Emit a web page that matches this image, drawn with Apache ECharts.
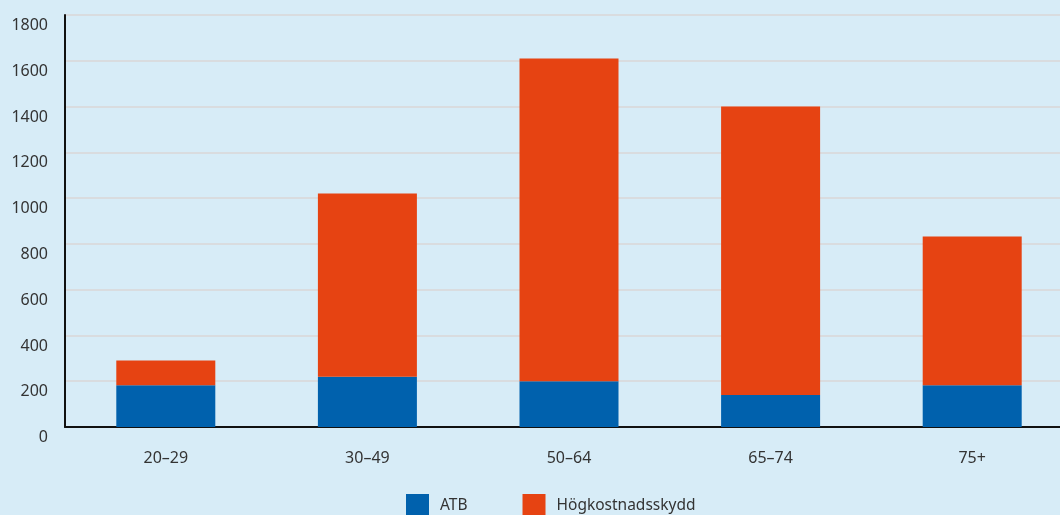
<!DOCTYPE html>
<html>
<head>
<meta charset="utf-8">
<script src="https://cdn.jsdelivr.net/npm/echarts@6/dist/echarts.min.js"></script>
<style>
  html, body { margin: 0; padding: 0; background: #d7ecf7; }
  #chart { width: 1060px; height: 515px; }
</style>
</head>
<body>
<div id="chart"></div>
<script>
// Age groups and the two stacked components
const categories = ['20–29', '30–49', '50–64', '65–74', '75+'];
const atb = [182, 220, 200, 140, 182];
const hogkostnadsskydd = [108, 800, 1410, 1260, 650];
const yTicks = { min: 0, max: 1800, interval: 200 };

const FONT = '"Noto Sans", sans-serif';
const chart = echarts.init(document.getElementById('chart'), null, { renderer: 'canvas' });

chart.setOption({
  backgroundColor: '#d7ecf7',
  animation: false,
  textStyle: { fontFamily: FONT },
  // plot area runs a little past the right edge of the canvas
  grid: {
    left: 65, top: 15, width: 1008, height: 412,
    containLabel: false, outerBoundsMode: 'none'
  },
  legend: {
    left: 406,
    top: 494,
    padding: 0,
    itemWidth: 23,
    itemHeight: 23,
    itemGap: 55,
    icon: 'rect',
    textStyle: { fontFamily: FONT, fontSize: 15.5, color: '#333', padding: [0, 0, 0, 6] },
    data: ['ATB', 'Högkostnadsskydd']
  },
  xAxis: {
    type: 'category',
    data: categories,
    axisLine: { show: true, lineStyle: { color: '#111', width: 2 } },
    axisTick: { show: false },
    axisLabel: { color: '#333', fontSize: 16, fontFamily: FONT, margin: 23 }
  },
  yAxis: {
    type: 'value',
    min: yTicks.min,
    max: yTicks.max,
    interval: yTicks.interval,
    axisLine: { show: true, lineStyle: { color: '#111', width: 2 } },
    axisTick: { show: false },
    axisLabel: {
      color: '#333', fontSize: 16, fontFamily: FONT, margin: 17,
      verticalAlign: 'top', lineHeight: 21,
      formatter: (v) => String(v)
    },
    splitLine: { show: true, lineStyle: { color: '#d9dcdf', width: 2 } }
  },
  series: [
    {
      name: 'ATB', type: 'bar', stack: 'total', barWidth: 99,
      itemStyle: { color: '#0061ad' }, data: atb
    },
    {
      name: 'Högkostnadsskydd', type: 'bar', stack: 'total', barWidth: 99,
      itemStyle: { color: '#e64312' }, data: hogkostnadsskydd
    }
  ]
});
</script>
</body>
</html>
